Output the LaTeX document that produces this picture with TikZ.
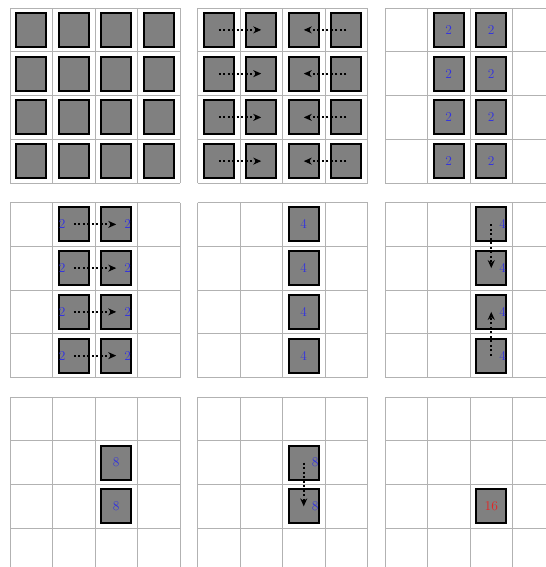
\documentclass[tikz,border=0pt]{standalone}
\usepackage{tikz}
\usetikzlibrary{arrows.meta}
\definecolor{numblue}{RGB}{50,50,225}
\definecolor{numred}{RGB}{230,35,35}

\begin{document}
\begin{tikzpicture}[x=42.5bp,y=-43.75bp,
  gridline/.style={black!30,line width=0.8bp},
  cellbox/.style={draw=black,fill=black!50,line width=2bp,minimum width=30bp,
                  minimum height=34bp,inner sep=0pt},
  numlabel/.style={text=numblue,inner sep=0.5bp,font=\fontsize{13.5}{15}\selectfont},
  merge/.style={line width=2bp,dash pattern=on 2bp off 2.5bp,
                -{Stealth[length=8bp,width=7bp]}}]
  \useasboundingbox (0,0) rectangle (546bp,-567bp);
  \clip (0,0) rectangle (546bp,-567bp);
  % nine 4x4 panels, three per row
  \foreach \pc in {0,1,2}
    \foreach \pr in {0,1,2} {
      \begin{scope}[shift={(10bp+187.5bp*\pc,-8bp-194.5bp*\pr)}]
        \foreach \k in {0,...,4}
          \draw[gridline] (\k,0) -- (\k,4) (0,\k) -- (4,\k);
      \end{scope}
    }

  % step 0: one block per cell
  \begin{scope}[shift={(10bp,-8bp)}]
    \foreach \cx in {1,...,4}
      \foreach \ry in {1,...,4}
        \node[cellbox] (a\cx\ry) at (\cx-.5,\ry-.5) {};
  \end{scope}

  % step 1: merge columns pairwise
  \begin{scope}[shift={(197.5bp,-8bp)}]
    \foreach \cx in {1,...,4}
      \foreach \ry in {1,...,4}
        \node[cellbox] (b\cx\ry) at (\cx-.5,\ry-.5) {};
    \foreach \ry in {1,...,4} {
      \draw[merge] (b1\ry.center) -- (b2\ry.center);
      \draw[merge] (b4\ry.center) -- (b3\ry.center);
    }
  \end{scope}

  \begin{scope}[shift={(385bp,-8bp)}]
    \foreach \cx in {2,3}
      \foreach \ry in {1,...,4}
        \node[cellbox,numlabel] (c\cx\ry) at (\cx-.5,\ry-.5) {2};
  \end{scope}

  % step 2: merge the two middle columns
  \begin{scope}[shift={(10bp,-202.5bp)}]
    \foreach \ry in {1,...,4} {
      \node[cellbox] (d2\ry) at (1.5,\ry-.5) {};
      \node[cellbox] (d3\ry) at (2.5,\ry-.5) {};
      \node[numlabel,anchor=west] (dl\ry) at ([xshift=0.5bp]d2\ry.west) {2};
      \node[numlabel,anchor=east] (dr\ry) at ([xshift=-0.5bp]d3\ry.east) {2};
      \draw[merge] (d2\ry.center) -- (d3\ry.center);
    }
  \end{scope}

  \begin{scope}[shift={(197.5bp,-202.5bp)}]
    \foreach \ry in {1,...,4}
      \node[cellbox,numlabel] (e3\ry) at (2.5,\ry-.5) {4};
  \end{scope}

  % step 3: merge rows pairwise
  \begin{scope}[shift={(385bp,-202.5bp)}]
    \foreach \ry in {1,...,4} {
      \node[cellbox] (f3\ry) at (2.5,\ry-.5) {};
      \node[numlabel,anchor=east] (fl\ry) at ([xshift=-0.5bp]f3\ry.east) {4};
    }
    \draw[merge] (f31.center) -- (f32.center);
    \draw[merge] (f34.center) -- (f33.center);
  \end{scope}

  \begin{scope}[shift={(10bp,-397bp)}]
    \node[cellbox,numlabel] (g32) at (2.5,1.5) {8};
    \node[cellbox,numlabel] (g33) at (2.5,2.5) {8};
  \end{scope}

  % step 4: last merge
  \begin{scope}[shift={(197.5bp,-397bp)}]
    \node[cellbox] (h32) at (2.5,1.5) {};
    \node[cellbox] (h33) at (2.5,2.5) {};
    \node[numlabel,anchor=east] (hl2) at ([xshift=-0.5bp]h32.east) {8};
    \node[numlabel,anchor=east] (hl3) at ([xshift=-0.5bp]h33.east) {8};
    \draw[merge] (h32.center) -- (h33.center);
  \end{scope}

  \begin{scope}[shift={(385bp,-397bp)}]
    \node[cellbox,numlabel,text=numred] (i33) at (2.5,2.5) {16};
  \end{scope}
\end{tikzpicture}
\end{document}
